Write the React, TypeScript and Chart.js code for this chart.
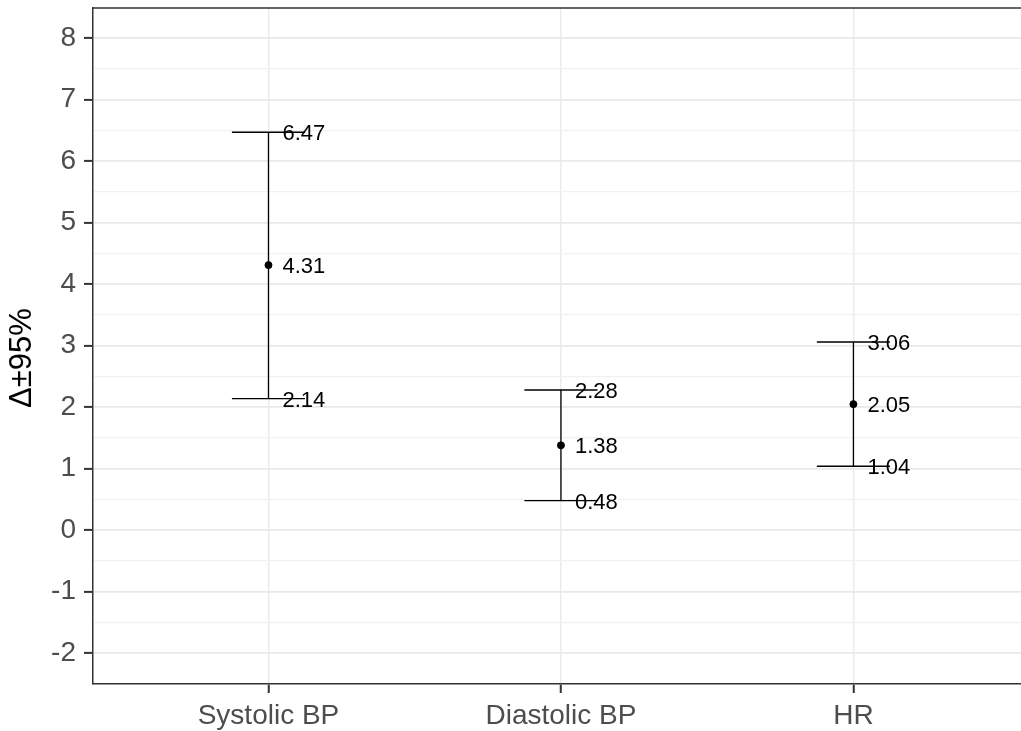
import React, { useEffect, useRef } from "react";
import { Chart, registerables } from "chart.js";

Chart.register(...registerables);

const categories = ["Systolic BP", "Diastolic BP", "HR"];
const estimates = [4.31, 1.38, 2.05];
const lowerCI = [2.14, 0.48, 1.04];
const upperCI = [6.47, 2.28, 3.06];
const yTicks = [-2, -1, 0, 1, 2, 3, 4, 5, 6, 7, 8];
const yTitle = "Δ±95%";

const FONT = "'Liberation Sans', Arial, sans-serif";

const errorBarPlugin = {
  id: "errorBars",
  afterDatasetsDraw(chart: any) {
    const { ctx, scales, chartArea } = chart;
    const xs = scales.x;
    const ys = scales.y;
    ctx.save();
    // top border of panel
    ctx.strokeStyle = "#333333";
    ctx.lineWidth = 1.5;
    ctx.beginPath();
    ctx.moveTo(chartArea.left, chartArea.top);
    ctx.lineTo(chartArea.right, chartArea.top);
    ctx.stroke();

    const halfW = 0.125;
    ctx.strokeStyle = "#000000";
    ctx.lineWidth = 1.3;
    categories.forEach((_, i) => {
      const xc = xs.getPixelForValue(i);
      const xl = xs.getPixelForValue(i - halfW);
      const xr = xs.getPixelForValue(i + halfW);
      const yl = ys.getPixelForValue(lowerCI[i]);
      const yu = ys.getPixelForValue(upperCI[i]);
      ctx.beginPath();
      ctx.moveTo(xc, yl);
      ctx.lineTo(xc, yu);
      ctx.moveTo(xl, yl);
      ctx.lineTo(xr, yl);
      ctx.moveTo(xl, yu);
      ctx.lineTo(xr, yu);
      ctx.stroke();
    });
    ctx.fillStyle = "#000000";
    ctx.font = `22px ${FONT}`;
    ctx.textAlign = "left";
    ctx.textBaseline = "middle";
    categories.forEach((_, i) => {
      const xt = xs.getPixelForValue(i) + 14;
      [upperCI[i], estimates[i], lowerCI[i]].forEach((v) => {
        ctx.fillText(v.toFixed(2), xt, ys.getPixelForValue(v) + 2);
      });
    });
    // y title
    ctx.save();
    ctx.translate(22, 358);
    ctx.rotate(-Math.PI / 2);
    ctx.textAlign = "center";
    ctx.textBaseline = "middle";
    ctx.font = `31px ${FONT}`;
    ctx.fillStyle = "#000000";
    ctx.fillText(yTitle, 0, 0);
    ctx.restore();
    ctx.restore();
  },
};

export default function App() {
  const ref = useRef<HTMLCanvasElement>(null);
  useEffect(() => {
    document.body.style.margin = "0";
    const pts = categories.map((_, i) => ({ x: i, y: estimates[i] }));
    const chart = new Chart(ref.current!, {
      type: "scatter",
      data: {
        datasets: [
          {
            data: pts,
            backgroundColor: "#000000",
            borderColor: "#000000",
            pointRadius: 3.5,
            pointHoverRadius: 3.5,
          },
        ],
      },
      options: {
        animation: false,
        responsive: false,
        events: [],
        layout: { autoPadding: false, padding: { top: 8, left: 0, right: 0, bottom: 0 } },
        plugins: { legend: { display: false }, tooltip: { enabled: false } },
        scales: {
          x: {
            type: "linear",
            min: -0.6,
            max: 2.573,
            afterBuildTicks: (s: any) => {
              s.ticks = categories.map((_, i) => ({ value: i }));
            },
            afterFit: (s: any) => {
              s.height = 47;
              s.paddingLeft = 0;
              s.paddingRight = 0;
              s.paddingTop = 0;
              s.paddingBottom = 0;
            },
            ticks: {
              callback: (v: any) => categories[v as number] ?? "",
              font: { family: FONT, size: 28 },
              color: "#4d4d4d",
              padding: 6,
              maxRotation: 0,
              autoSkip: false,
            },
            grid: {
              color: "#ebebeb",
              lineWidth: 1.5,
              tickLength: 9,
              tickColor: "#333333",
              tickWidth: 2,
            },
            border: { color: "#333333", width: 1.5 },
          },
          y: {
            type: "linear",
            min: -2.5,
            max: 8.49,
            afterBuildTicks: (s: any) => {
              const t: any[] = [];
              for (let k = 0; k < yTicks.length; k++) {
                t.push({ value: yTicks[k] });
                if (k < yTicks.length - 1) t.push({ value: yTicks[k] + 0.5 });
              }
              t.unshift({ value: yTicks[0] - 0.5 });
              s.ticks = t;
            },
            afterFit: (s: any) => {
              s.width = 93;
              s.paddingLeft = 0;
              s.paddingRight = 0;
              s.paddingTop = 0;
              s.paddingBottom = 0;
            },
            ticks: {
              callback: (v: any) => (Number.isInteger(v) ? String(v) : ""),
              font: { family: FONT, size: 28 },
              color: "#4d4d4d",
              padding: 8,
              autoSkip: false,
            },
            grid: {
              color: (c: any) =>
                Number.isInteger(c.tick?.value) ? "#e8e8e8" : "#f1f1f1",
              lineWidth: (c: any) => (Number.isInteger(c.tick?.value) ? 1.8 : 1.3),
              tickLength: 9,
              tickColor: (c: any) =>
                Number.isInteger(c.tick?.value) ? "#333333" : "rgba(0,0,0,0)",
              tickWidth: 2,
            },
            border: { color: "#333333", width: 1.5 },
          },
        },
      },
      plugins: [errorBarPlugin],
    } as any);
    return () => chart.destroy();
  }, []);
  return (
    <div style={{ position: "absolute", left: 0, top: 0, width: 1021, height: 731 }}>
      <canvas ref={ref} width={1021} height={731} />
    </div>
  );
}
